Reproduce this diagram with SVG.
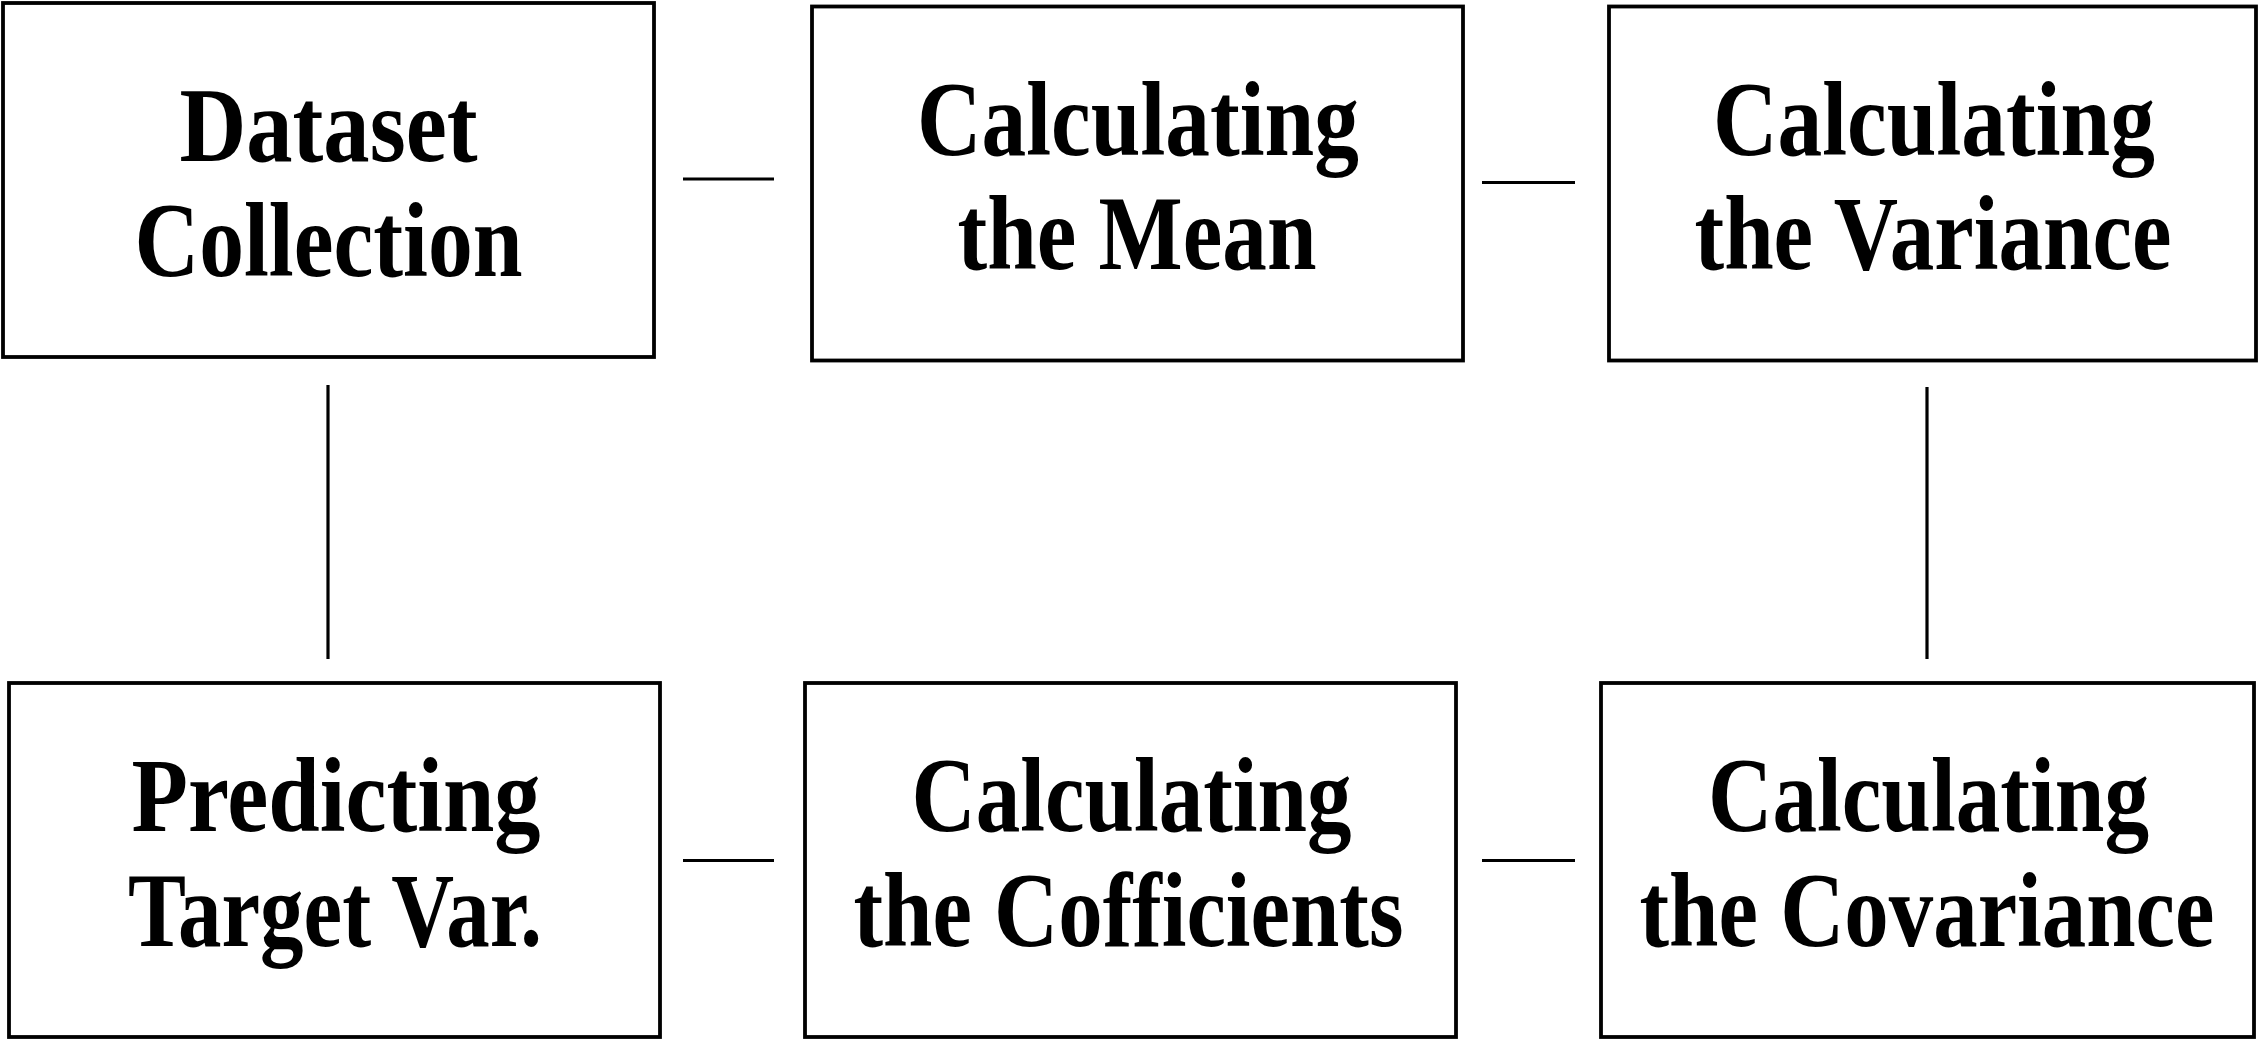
<svg xmlns="http://www.w3.org/2000/svg" width="2261" height="1040" viewBox="0 0 2261 1040">
<style>
.box{fill:#fff;stroke:#000;stroke-width:3.8}
.conn{stroke:#000;stroke-width:3.2;fill:none}
.lbl{font-family:"Liberation Serif","Times New Roman",serif;font-weight:bold;font-size:106px;fill:#000;text-anchor:middle}
</style>
<rect width="2261" height="1040" fill="#fff"/>
<g id="connectors">
<line class="conn" x1="683" y1="179" x2="774" y2="179"/>
<line class="conn" x1="1482" y1="182.5" x2="1575" y2="182.5"/>
<line class="conn" x1="328" y1="385" x2="328" y2="659"/>
<line class="conn" x1="1927" y1="387" x2="1927" y2="659"/>
<line class="conn" x1="683" y1="860.5" x2="774" y2="860.5"/>
<line class="conn" x1="1482" y1="860.5" x2="1575" y2="860.5"/>
</g>
<g id="dataset">
<rect class="box" x="3" y="3" width="651" height="354"/>
<text class="lbl" x="328.5" y="161" textLength="298" lengthAdjust="spacingAndGlyphs">Dataset</text>
<text class="lbl" x="328.5" y="276" textLength="388" lengthAdjust="spacingAndGlyphs">Collection</text>
</g>
<g id="mean">
<rect class="box" x="812" y="6.5" width="651" height="354"/>
<text class="lbl" x="1138" y="155" textLength="442" lengthAdjust="spacingAndGlyphs">Calculating</text>
<text class="lbl" x="1137" y="269" textLength="359" lengthAdjust="spacingAndGlyphs">the Mean</text>
</g>
<g id="variance">
<rect class="box" x="1609" y="6.5" width="647" height="354"/>
<text class="lbl" x="1934" y="155" textLength="442" lengthAdjust="spacingAndGlyphs">Calculating</text>
<text class="lbl" x="1933" y="269" textLength="477" lengthAdjust="spacingAndGlyphs">the Variance</text>
</g>
<g id="predicting">
<rect class="box" x="9" y="683" width="651" height="354"/>
<text class="lbl" x="336" y="831" textLength="409" lengthAdjust="spacingAndGlyphs">Predicting</text>
<text class="lbl" x="335" y="946" textLength="414" lengthAdjust="spacingAndGlyphs">Target Var.</text>
</g>
<g id="coefficients">
<rect class="box" x="805" y="683" width="651" height="354"/>
<text class="lbl" x="1131.5" y="831" textLength="440" lengthAdjust="spacingAndGlyphs">Calculating</text>
<text class="lbl" x="1128.5" y="946" textLength="550" lengthAdjust="spacingAndGlyphs">the Cofficients</text>
</g>
<g id="covariance">
<rect class="box" x="1601" y="683" width="653" height="354"/>
<text class="lbl" x="1928.5" y="831" textLength="441" lengthAdjust="spacingAndGlyphs">Calculating</text>
<text class="lbl" x="1927" y="946" textLength="575" lengthAdjust="spacingAndGlyphs">the Covariance</text>
</g>
</svg>
